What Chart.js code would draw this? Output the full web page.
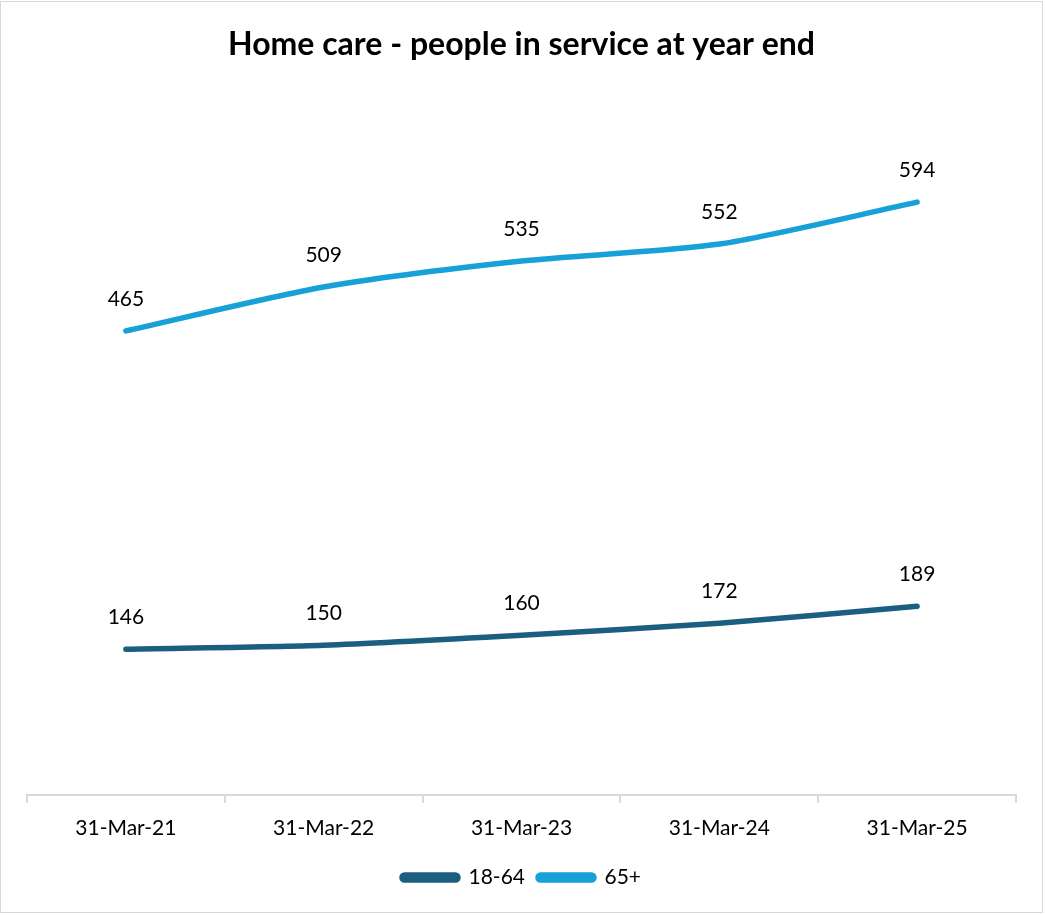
<!DOCTYPE html>
<html>
<head>
<meta charset="utf-8">
<script src="https://cdn.jsdelivr.net/npm/chart.js@4"></script>
<style>
    body { margin: 0; background: white; }
    #wrap {
        position: absolute; left: 0; top: 1px;
        width: 1041px; height: 910px;
        border: 1px solid #d9d9d9;
        background: white;
    }
</style>
</head>
<body>
<div id="wrap"><canvas id="homeCare"></canvas></div>
<script>
const years = ['31-Mar-21', '31-Mar-22', '31-Mar-23', '31-Mar-24', '31-Mar-25'];
const age18to64 = [146, 150, 160, 172, 189];
const age65plus = [465, 509, 535, 552, 594];

const darkBlue = '#1b5f80';
const lightBlue = '#18a0d8';
const fontName = 'Lato, Carlito, Calibri, sans-serif';

// draws the number above each point
const valueLabels = {
    id: 'valueLabels',
    afterDatasetsDraw(chart) {
        const ctx = chart.ctx;
        ctx.save();
        ctx.font = '21px ' + fontName;
        ctx.fillStyle = '#000';
        ctx.textAlign = 'center';
        ctx.textBaseline = 'alphabetic';
        chart.data.datasets.forEach((ds, i) => {
            chart.getDatasetMeta(i).data.forEach((pt, j) => {
                ctx.fillText(ds.data[j], pt.x, pt.y - 25);
            });
        });
        ctx.restore();
    }
};

const ctx = document.getElementById('homeCare').getContext('2d');
new Chart(ctx, {
    type: 'line',
    data: {
        labels: years,
        datasets: [{
            label: '18-64',
            data: age18to64,
            borderColor: darkBlue,
            backgroundColor: darkBlue,
            borderWidth: 5.5,
            borderCapStyle: 'round',
            pointRadius: 0,
            tension: 0.25,
            fill: false
        },
        {
            label: '65+',
            data: age65plus,
            borderColor: lightBlue,
            backgroundColor: lightBlue,
            borderWidth: 5.5,
            borderCapStyle: 'round',
            pointRadius: 0,
            tension: 0.25,
            fill: false
        }]
    },
    options: {
        responsive: true,
        maintainAspectRatio: false,
        animation: false,
        layout: {
            padding: { left: 26, right: 26, top: 20, bottom: 14 }
        },
        plugins: {
            title: {
                display: true,
                text: 'Home care - people in service at year end',
                color: '#000',
                font: { family: fontName, size: 32, weight: 'bold' },
                padding: { top: 3, bottom: 33 }
            },
            legend: {
                position: 'bottom',
                labels: {
                    color: '#000',
                    font: { family: fontName, size: 21 },
                    boxWidth: 56,
                    boxHeight: 5,
                    useBorderRadius: true,
                    borderRadius: 2.5,
                    padding: 13
                }
            },
            tooltip: { enabled: false }
        },
        scales: {
            x: {
                offset: true,
                grid: {
                    offset: true,
                    drawOnChartArea: false,
                    drawTicks: true,
                    tickLength: 8,
                    color: '#d9d9d9',
                    lineWidth: 2
                },
                border: { color: '#d9d9d9', width: 2 },
                ticks: {
                    color: '#000',
                    font: { family: fontName, size: 21 },
                    padding: 13,
                    maxRotation: 0
                }
            },
            y: {
                display: false,
                min: 0,
                max: 700
            }
        }
    },
    plugins: [valueLabels]
});
</script>
</body>
</html>
